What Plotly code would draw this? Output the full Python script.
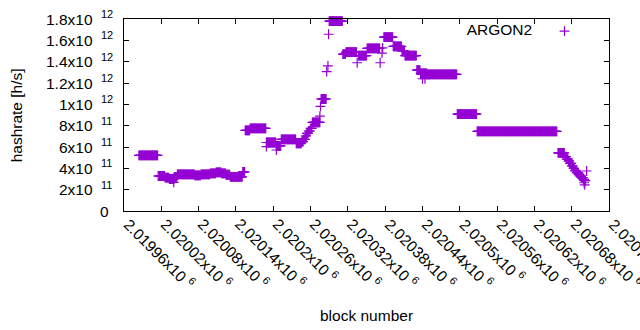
import numpy as np
import plotly.graph_objects as go

# Step runs of the hashrate series (first block, last block, value in h/s)
run_start = [2019984, 2020015, 2020026, 2020033, 2020041, 2020046, 2020074, 2020084, 2020099, 2020108,
             2020117, 2020124, 2020131, 2020151, 2020155, 2020163, 2020189, 2020205, 2020213, 2020237,
             2020246, 2020249, 2020252, 2020254, 2020257, 2020260, 2020263, 2020277, 2020290, 2020312,
             2020317, 2020337, 2020351, 2020378, 2020393, 2020407, 2020412, 2020431, 2020437, 2020448,
             2020496, 2020528, 2020658, 2020669, 2020672, 2020675, 2020677, 2020680, 2020683, 2020685,
             2020688, 2020691, 2020693, 2020696, 2020699, 2020701]
run_end = [2020014, 2020025, 2020032, 2020040, 2020045, 2020073, 2020083, 2020098, 2020107, 2020116,
           2020123, 2020130, 2020150, 2020154, 2020162, 2020188, 2020204, 2020212, 2020236, 2020245,
           2020248, 2020251, 2020253, 2020256, 2020259, 2020262, 2020275, 2020285, 2020311, 2020316,
           2020334, 2020350, 2020371, 2020392, 2020406, 2020411, 2020430, 2020436, 2020447, 2020495,
           2020527, 2020656, 2020668, 2020671, 2020674, 2020676, 2020679, 2020682, 2020684, 2020687,
           2020690, 2020692, 2020695, 2020698, 2020700, 2020702]
run_value = [5.22e11, 3.28e11, 3.12e11, 3.00e11, 3.20e11, 3.44e11, 3.34e11, 3.44e11, 3.53e11, 3.63e11,
             3.53e11, 3.40e11, 3.19e11, 3.66e11, 7.55e11, 7.75e11, 6.42e11, 6.10e11, 6.72e11, 6.35e11,
             6.50e11, 6.72e11, 7.03e11, 7.28e11, 7.50e11, 7.75e11, 8.31e11, 1.05e12, 1.78e12, 1.47e12,
             1.49e12, 1.456e12, 1.525e12, 1.63e12, 1.544e12, 1.50e12, 1.456e12, 1.32e12, 1.29e12, 1.28e12,
             9.09e11, 7.47e11, 5.44e11, 5.09e11, 4.87e11, 4.69e11, 4.47e11, 4.22e11, 4.00e11, 3.78e11,
             3.59e11, 3.44e11, 3.28e11, 3.12e11, 2.97e11, 2.84e11]

# Isolated points
outlier_block = [2020040, 2020189, 2020205, 2020275, 2020276, 2020286, 2020288, 2020289, 2020335,
                 2020372, 2020375, 2020376, 2020440, 2020444, 2020700, 2020701, 2020704]
outlier_value = [2.69e11, 6.03e11, 5.72e11, 8.9e11, 9.8e11, 1.306e12, 1.36e12, 1.657e12, 1.39e12,
                 1.39e12, 1.48e12, 1.53e12, 1.24e12, 1.24e12, 2.65e11, 2.44e11, 3.75e11]

x_tick_values = [2019960, 2020020, 2020080, 2020140, 2020200, 2020260, 2020320,
                 2020380, 2020440, 2020500, 2020560, 2020620, 2020680, 2020740]
x_tick_labels = ["2.01996x10 <sup>6</sup>", "2.02002x10 <sup>6</sup>", "2.02008x10 <sup>6</sup>",
                 "2.02014x10 <sup>6</sup>", "2.0202x10 <sup>6</sup>", "2.02026x10 <sup>6</sup>",
                 "2.02032x10 <sup>6</sup>", "2.02038x10 <sup>6</sup>", "2.02044x10 <sup>6</sup>",
                 "2.0205x10 <sup>6</sup>", "2.02056x10 <sup>6</sup>", "2.02062x10 <sup>6</sup>",
                 "2.02068x10 <sup>6</sup>", "2.02074x10 <sup>6</sup>"]
y_tick_values = [0, 2e11, 4e11, 6e11, 8e11, 1e12, 1.2e12, 1.4e12, 1.6e12, 1.8e12]
y_tick_mantissa = ["0", "2x10", "4x10", "6x10", "8x10", "1x10", "1.2x10", "1.4x10", "1.6x10", "1.8x10"]
y_tick_exponent = ["", "11", "11", "11", "11", "12", "12", "12", "12", "12"]

blocks = np.concatenate([np.arange(s, e + 1) for s, e in zip(run_start, run_end)] + [np.array(outlier_block)])
values = np.concatenate([np.full(e - s + 1, v) for s, e, v in zip(run_start, run_end, run_value)]
                        + [np.array(outlier_value)])

COLOR = "#9400d3"
FONT = "Liberation Sans, Arial, sans-serif"
FS = 15.5
TFS = 15.5

fig = go.Figure()
fig.add_trace(go.Scatter(
    x=blocks, y=values, mode="markers", name="",
    marker=dict(symbol="cross-thin", size=7, color=COLOR, line=dict(width=1.2, color=COLOR)),
    cliponaxis=False, showlegend=True,
))

axis_common = dict(showline=True, linecolor="black", linewidth=1, mirror="ticks",
                   ticks="inside", ticklen=5, tickcolor="black", showgrid=False, zeroline=False,
                   automargin=False, showticklabels=False)

annotations = [
    dict(text="hashrate [h/s]", xref="paper", yref="paper", x=-0.222, y=0.5,
         xanchor="center", yanchor="middle", textangle=-90, showarrow=False,
         font=dict(family=FONT, size=FS, color="black")),
    dict(text="block number", xref="paper", yref="paper", x=0.5, y=-0.542,
         xanchor="center", yanchor="middle", showarrow=False,
         font=dict(family=FONT, size=FS, color="black")),
]
for tv, tl in zip(x_tick_values, x_tick_labels):
    annotations.append(dict(text=tl, xref="x", yref="paper", x=tv, y=0.0,
                            xanchor="left", yanchor="top", xshift=-7, textangle=45,
                            showarrow=False, font=dict(family=FONT, size=TFS, color="black")))
for tv, mant, expo in zip(y_tick_values, y_tick_mantissa, y_tick_exponent):
    if expo:
        annotations.append(dict(text=mant, xref="paper", yref="y", x=-0.0604, y=tv,
                                xanchor="right", yanchor="middle", showarrow=False,
                                font=dict(family=FONT, size=TFS, color="black")))
        annotations.append(dict(text=expo, xref="paper", yref="y", x=-0.0522, y=tv,
                                xanchor="left", yanchor="middle", yshift=5, showarrow=False,
                                font=dict(family=FONT, size=11, color="black")))
    else:
        annotations.append(dict(text=mant, xref="paper", yref="y", x=-0.0275, y=tv,
                                xanchor="right", yanchor="middle", showarrow=False,
                                font=dict(family=FONT, size=TFS, color="black")))

fig.update_layout(
    width=640, height=330,
    margin=dict(l=124, r=31, t=19, b=119, autoexpand=False),
    paper_bgcolor="white", plot_bgcolor="white",
    font=dict(family=FONT, size=FS, color="black"),
    xaxis=dict(range=[2019960, 2020740], tickvals=x_tick_values, **axis_common),
    yaxis=dict(range=[0, 1.8e12], tickvals=y_tick_values, **axis_common),
    legend=dict(title=dict(text="ARGON2\u00a0", side="left", font=dict(family=FONT, size=FS, color="black")),
                x=0.7025, xanchor="left", y=0.935, yanchor="middle",
                bgcolor="rgba(0,0,0,0)", borderwidth=0, font=dict(size=FS)),
    annotations=annotations,
)

fig.write_html("out.html", config={"displayModeBar": False},
               post_script="document.body.style.margin='0';document.body.style.padding='0';")
